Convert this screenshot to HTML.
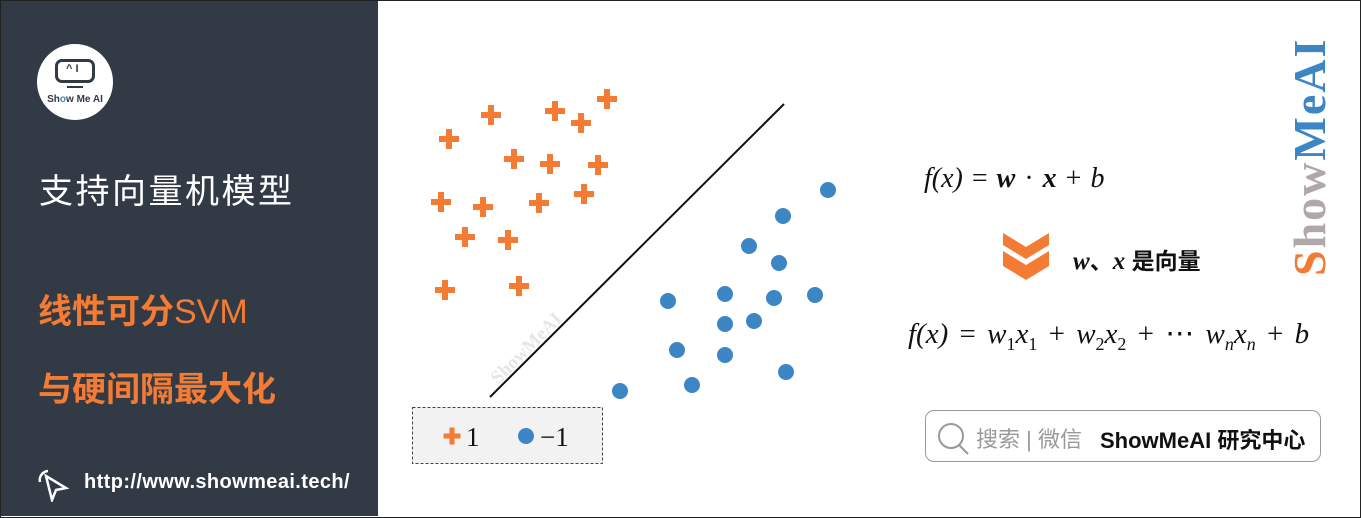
<!DOCTYPE html>
<html><head><meta charset="utf-8"><style>
body{margin:0;width:1361px;height:518px;overflow:hidden;background:#fff;position:relative;font-family:"Liberation Sans","Noto Sans CJK SC",sans-serif}
.abs{position:absolute}
.math{font-family:"Liberation Serif","DejaVu Serif",serif;font-style:italic;color:#111;white-space:nowrap}
</style></head><body>
<div class="abs" style="left:0;top:0;width:1359px;height:516px;border:1px solid #222"></div>
<div class="abs" style="left:1px;top:1px;width:377px;height:515px;background:#323a45"></div>
<div class="abs" style="left:37px;top:44px;width:76px;height:76px;border-radius:50%;background:#fff">
  <div class="abs" style="left:18px;top:15px;width:40px;height:24px;border:3px solid #323a45;border-radius:7px;box-sizing:border-box"></div>
  <div class="abs" style="left:29px;top:19px;font:bold 11px 'Liberation Sans';color:#323a45">^ I</div>
  <div class="abs" style="left:30px;top:42px;width:16px;height:2px;background:#323a45"></div>
  <div class="abs" style="left:5px;top:50px;width:66px;text-align:center;font:bold 10px 'Liberation Sans';color:#323a45">Sh<span style="color:#3d86c6">o</span>w Me AI</div>
</div>
<div class="abs" style="left:39px;top:164px;font-size:34px;color:#fff;letter-spacing:2.5px">支持向量机模型</div>
<div class="abs" style="left:38px;top:284px;font-size:34px;color:#f47b33;font-weight:bold">线性可分<span style="font-weight:normal">SVM</span></div>
<div class="abs" style="left:38px;top:362px;font-size:34px;color:#f47b33;font-weight:bold">与硬间隔最大化</div>
<svg class="abs" style="left:36px;top:468px" width="34" height="34" viewBox="0 0 34 34"><path d="M10 8 L30 20 L20 22 L16 32 Z" fill="none" stroke="#fff" stroke-width="2.5"/><path d="M12 3 A9 9 0 0 0 4 14" fill="none" stroke="#fff" stroke-width="2.5"/></svg>
<div class="abs" style="left:84px;top:471px;font-size:20px;letter-spacing:0.4px;color:#fff;font-weight:bold;white-space:nowrap">http://www.showmeai.tech/</div>

<svg class="abs" id="chart" style="left:0;top:0" width="900" height="518"></svg>

<div class="abs math" style="left:924px;top:163px;font-size:28px;word-spacing:2px">f(x) <span style="font-style:normal">=</span> <b>w</b> <span style="font-style:normal">·</span> <b>x</b> <span style="font-style:normal">+</span> b</div>
<svg class="abs" style="left:1003px;top:233px" width="46" height="47"><path d="M0 0 L23 14 L46 0 L46 12 L23 26 L0 12Z" fill="#f47b33"/><path d="M0 18 L23 32 L46 18 L46 33 L23 47 L0 33Z" fill="#f47b33"/></svg>
<div class="abs" style="left:1073px;top:242px;font-size:23px;font-weight:bold;color:#111"><span class="math" style="font-weight:bold;font-size:25px">w</span>、<span class="math" style="font-weight:bold;font-size:25px">x</span> 是向量</div>
<div class="abs math" style="left:908px;top:316px;font-size:29px;word-spacing:4px">f(x) <span style="font-style:normal">=</span> w<sub style="font-size:18px;font-style:normal">1</sub>x<sub style="font-size:18px;font-style:normal">1</sub> <span style="font-style:normal">+</span> w<sub style="font-size:18px;font-style:normal">2</sub>x<sub style="font-size:18px;font-style:normal">2</sub> <span style="font-style:normal">+ ⋯</span> w<sub style="font-size:18px">n</sub>x<sub style="font-size:18px">n</sub> <span style="font-style:normal">+</span> b</div>
<div class="abs" style="left:1283px;top:276px;transform:rotate(-90deg);transform-origin:0 0;font:bold 46px 'Liberation Serif',serif;white-space:nowrap;letter-spacing:2px"><span style="color:#f47b33">S</span><span style="color:#b0a8a8">how</span><span style="color:#3d86c6">MeAI</span></div>
<div class="abs" style="left:925px;top:410px;width:396px;height:52px;border:1px solid #999;border-radius:9px;box-sizing:border-box">
  <svg class="abs" style="left:11px;top:11px" width="34" height="34"><circle cx="14" cy="14" r="12" fill="none" stroke="#999" stroke-width="2"/><path d="M22 23 L31 32" stroke="#999" stroke-width="2"/></svg>
  <div class="abs" style="left:50px;top:11px;font-size:22px;color:#999;white-space:nowrap">搜索 | 微信</div>
  <div class="abs" style="left:174px;top:12px;font-size:22px;color:#111;font-weight:bold;white-space:nowrap">ShowMeAI 研究中心</div>
</div>
<script>
const crossX=[20.7,9.1,15.5,18.1,4.9,11.4,15.0,19.8,4.1,8.3,13.9,18.4,6.5,10.8,4.5,11.9];
const crossY=[41.9,40.3,40.7,39.5,37.9,35.9,35.4,35.3,31.6,31.1,31.5,32.4,28.1,27.8,22.8,23.2];
const dotX=[42.8,38.3,34.9,37.9,26.8,32.5,37.4,41.5,32.5,35.4,27.7,32.5,38.6,29.2,22.0];
const dotY=[32.8,30.2,27.2,25.5,21.7,22.4,22.0,22.3,19.4,19.7,16.8,16.3,14.6,13.3,12.7];
const lineX=[9.0,38.4];
const lineY=[12.1,41.4];
const legendLabels=['1','\u22121'];
const sx=v=>400+v*10, sy=v=>518-v*10;
const NS='http://www.w3.org/2000/svg', svg=document.getElementById('chart');
function mk(t,a){const e=document.createElementNS(NS,t);for(const k in a)e.setAttribute(k,a[k]);svg.appendChild(e);return e;}
const wm=mk('text',{x:0,y:0,transform:'translate(498,385) rotate(-45)','font-family':'Liberation Serif','font-weight':'bold','font-size':'19',fill:'#e6e6e6'});
wm.textContent='ShowMeAI';


const ln=mk('line',{x1:sx(lineX[0]),y1:sy(lineY[0]),x2:sx(lineX[1]),y2:sy(lineY[1]),stroke:'#111','stroke-width':2});


function cross(cx,cy,s){const g=mk('path',{d:`M${cx-3*s} ${cy-10*s}h${6*s}v${7*s}h${7*s}v${6*s}h${-7*s}v${7*s}h${-6*s}v${-7*s}h${-7*s}v${-6*s}h${7*s}z`,fill:'#f47b33'});return g;}
crossX.forEach((x,i)=>{const c=cross(sx(x),sy(crossY[i]),1);

});
dotX.forEach((x,i)=>{const c=mk('circle',{cx:sx(x),cy:sy(dotY[i]),r:8,fill:'#3d86c6'});

});
const lb=mk('rect',{x:412.5,y:407.5,width:190,height:56,fill:'#f2f2f2',stroke:'#444','stroke-dasharray':'3,2'});


const lc=cross(452,436,0.85);


const ld=mk('circle',{cx:526,cy:436,r:8,fill:'#3d86c6'});


[[466,legendLabels[0]],[540,legendLabels[1]]].forEach(([x,t],i)=>{const e=mk('text',{x:x,y:446,'font-family':'Liberation Serif','font-size':'27',fill:'#111'});e.textContent=t;

});
</script>
</body></html>
